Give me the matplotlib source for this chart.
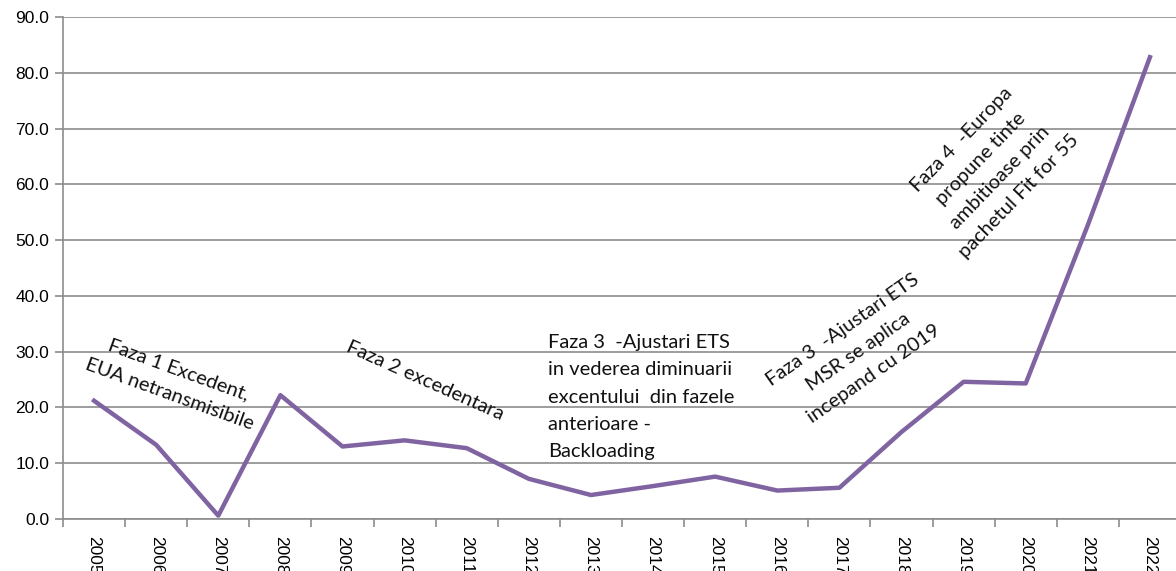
import matplotlib
matplotlib.use("Agg")
import matplotlib.pyplot as plt
import numpy as np

years = [str(y) for y in range(2005, 2023)]
prices = [21.2, 13.3, 0.6, 22.2, 13.0, 14.1, 12.7, 7.2, 4.3, 5.9, 7.6, 5.1, 5.6, 15.6, 24.6, 24.3, 52.7, 82.8]
y_ticks = [0, 10, 20, 30, 40, 50, 60, 70, 80, 90]

fig = plt.figure(figsize=(11.76, 5.71), dpi=100)
ax = fig.add_axes([63/1176, 1-519/571, (1181-63)/1176, (519-17)/571])

x = np.arange(len(years))
ax.plot(x, prices, color="#8064A2", lw=3.2, solid_joinstyle="round", zorder=3)

ax.set_xlim(-0.5, len(years) - 0.5)
ax.set_ylim(0, 90)
ax.set_yticks(y_ticks)
ax.set_yticklabels([f"{v:.1f}" for v in y_ticks], fontsize=12.5, family="Liberation Sans")
ax.yaxis.grid(True, color="#8c8c8c", lw=1.2)
ax.set_axisbelow(True)

ax.set_xticks(np.arange(-0.5, len(years) + 0.5, 1))
ax.set_xticklabels([])
ax.set_xticks(x, minor=True)
ax.set_xticklabels(years, minor=True, rotation=-90, fontsize=12.5, family="Liberation Sans", va="top")
ax.tick_params(axis="x", which="major", length=6, color="#8c8c8c", width=1.2)
ax.tick_params(axis="x", which="minor", length=0, pad=12)
ax.tick_params(axis="y", length=6, color="#8c8c8c", width=1.2, pad=4)

for s in ["top", "right"]:
    ax.spines[s].set_visible(False)
for s in ["left", "bottom"]:
    ax.spines[s].set_color("#8c8c8c")
    ax.spines[s].set_linewidth(1.2)

def px2data(px, py):
    return (px - 63) / 62.1 - 0.5, (519 - py) / (502 / 90)

font = "Lato"
fs = 14.5

def put(px, py, s, rot, ha="center", va="center", ls=1.7):
    xd, yd = px2data(px, py)
    ax.text(xd, yd, s, rotation=rot, rotation_mode="anchor", ha=ha, va=va,
            multialignment="center", fontsize=fs, family=font, color="#111111",
            linespacing=ls, zorder=4)

put(174, 382, "Faza 1 Excedent,\nEUA netransmisibile", -20)
put(425, 381, "Faza 2 excedentara", -24)
xd, yd = px2data(548, 334)
ax.text(xd, yd, "Faza 3  -Ajustari ETS\nin vederea diminuarii\nexcentului  din fazele\nanterioare -\nBackloading",
        ha="left", va="top", multialignment="left", fontsize=fs, family=font,
        color="#111111", linespacing=1.74, zorder=4)
put(858, 352, "Faza 3  -Ajustari ETS\nMSR se aplica\nincepand cu 2019", 35)
put(990, 168, "Faza 4  -Europa\npropune tinte\nambitioase prin\npachetul Fit for 55", 46)

fig.savefig("out.png", dpi=100)
